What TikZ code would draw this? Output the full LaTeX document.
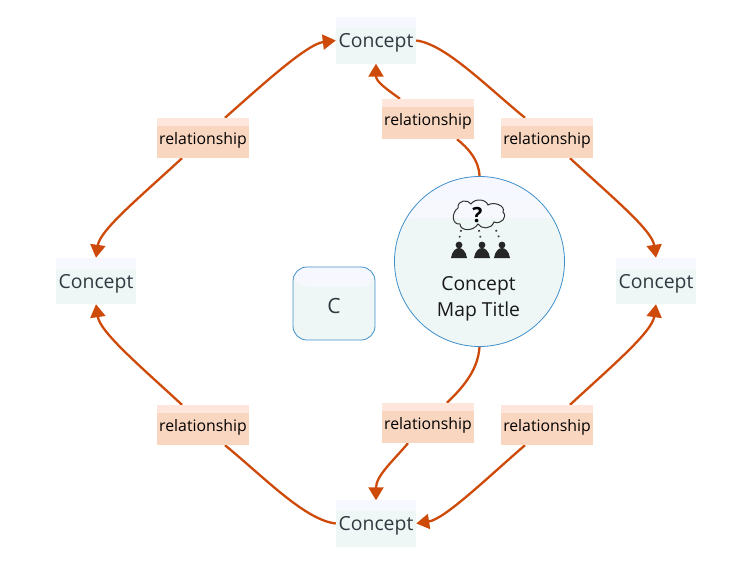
\documentclass[tikz,border=0pt]{standalone}
\usepackage{fontspec}
\setmainfont{Open Sans}
\usetikzlibrary{arrows.meta,backgrounds}
\definecolor{band}{HTML}{F7F8FF}
\definecolor{bandb}{HTML}{F1F8FB}
\definecolor{body}{HTML}{EEF7F6}
\definecolor{relA}{HTML}{FFE6DC}
\definecolor{relB}{HTML}{F9D6C0}
\definecolor{edge}{HTML}{3F8FCB}
\definecolor{conn}{HTML}{CE4A08}
\definecolor{ink}{HTML}{2F3A40}
\tikzset{
  glass/.style={fill=body,path picture={
    \shade[top color=band,bottom color=bandb]
      (path picture bounding box.north west) rectangle
      ([yshift=-#1]path picture bounding box.north east);}},
  conceptbox/.style={glass=10pt,minimum width=80pt,minimum height=46pt,inner sep=0pt,
    text=ink,font=\fontsize{19.4}{22}\selectfont,text height=18.5pt,text depth=4pt},
  relbox/.style={fill=relB,minimum width=92pt,minimum height=40pt,inner sep=0pt,
    text=black,font=\fontsize{15.8}{18}\selectfont,text height=17pt,text depth=3.5pt,
    path picture={\fill[relA] (path picture bounding box.north west) rectangle
      ([yshift=-8pt]path picture bounding box.north east);}},
  link/.style={draw=conn,line width=2.3pt},
  arrowlink/.style={link,-{Triangle[length=13pt,width=15pt]}},
  persona/.style={fill=black!85,draw=none},
  dots/.style={draw=black!75,line width=1.7pt,dash pattern=on 1.7pt off 4.3pt}
}
\begin{document}
\begin{tikzpicture}[x=1pt,y=-1pt]
\useasboundingbox (0,0) rectangle (750,563);
\node[conceptbox] (ct) at (376,40.5) {Concept};
\node[conceptbox] (cl) at (96,281) {Concept};
\node[conceptbox] (cr) at (656,281) {Concept};
\node[conceptbox] (cb) at (376,523.5) {Concept};
\node[relbox] (rtl) at (203,138) {relationship};
\node[relbox] (rtr) at (547,138) {relationship};
\node[relbox] (rbl) at (203,425) {relationship};
\node[relbox] (rbr) at (547,425) {relationship};
\node[relbox] (ru) at (428,119) {relationship};
\node[relbox] (rd) at (428,423) {relationship};
\node[circle,glass=41pt,draw=edge,line width=0.8pt,minimum size=170pt,inner sep=0pt] (hub) at (479.5,261.5) {};
\node[font=\fontsize{19.3}{26}\selectfont,text=black!90,align=center] (ttl) at (478.5,298.5) {Concept\\Map Title};
\node[rounded corners=14pt,glass=20pt,draw=edge,line width=0.8pt,minimum width=82pt,minimum height=73pt,inner sep=0pt,
  text=ink,font=\fontsize{21}{24}\selectfont,text height=20pt,text depth=0pt] (cc) at (334,303.5) {C};
% icon
\draw[black!80,line width=1pt] (458,208)
  .. controls (457,200) and (468,199) .. (471,204)
  .. controls (475,198) and (486,199) .. (488,205)
  .. controls (494,201) and (506,206) .. (503,212)
  .. controls (508,217) and (501,225) .. (494,222)
  .. controls (491,230) and (481,229) .. (478,224)
  .. controls (473,232) and (460,231) .. (460,224)
  .. controls (452,225) and (451,213) .. (458,208) -- cycle;
\node[font=\bfseries\fontsize{21}{21}\selectfont,inner sep=0pt] (qm) at (477.5,215) {?};
\draw[dots] (461,230) -- (459,240);
\draw[dots] (479,230) -- (481,240);
\draw[dots] (496,230) -- (500,240);
\foreach \px in {459,482,502}{
  \fill[persona] (\px,245) circle (3.4pt);
  \fill[persona] (\px-8,258) .. controls (\px-7,251) and (\px-3,248) .. (\px,248)
    .. controls (\px+3,248) and (\px+7,251) .. (\px+8,258) -- cycle;
}
\begin{scope}[on background layer]
\draw[arrowlink] ([xshift=22pt]rtl.north) .. controls (262,85) and (307,44) .. (ct.west);
\draw[arrowlink] ([xshift=-21pt]rtl.south) .. controls (140,197) and (100,230) .. (cl.north);
\draw[link] (ct.east) .. controls (445,44) and (485,85) .. ([xshift=-22pt]rtr.north);
\draw[arrowlink] ([xshift=23pt]rtr.south) .. controls (612,197) and (652,230) .. (cr.north);
\draw[arrowlink] ([xshift=-21pt]rbl.north) .. controls (140,366) and (100,332) .. (cl.south);
\draw[link] (cb.west) .. controls (305,520) and (265,478) .. ([xshift=22pt]rbl.south);
\draw[arrowlink] ([xshift=-22pt]rbr.south) .. controls (487,478) and (445,519) .. (cb.east);
\draw[arrowlink] ([xshift=23pt]rbr.north) .. controls (612,366) and (652,332) .. (cr.south);
\draw[link] (hub.north) .. controls (479,160) and (468,148) .. ([xshift=29pt]ru.south);
\draw[arrowlink] ([xshift=-28pt]ru.north) .. controls (388,90) and (376,82) .. (ct.south);
\draw[link] (hub.south) .. controls (478,372) and (460,390) .. ([xshift=19pt]rd.north);
\draw[arrowlink] ([xshift=-20pt]rd.south) .. controls (392,462) and (376,476) .. (cb.north);
\end{scope}
\end{tikzpicture}
\end{document}
